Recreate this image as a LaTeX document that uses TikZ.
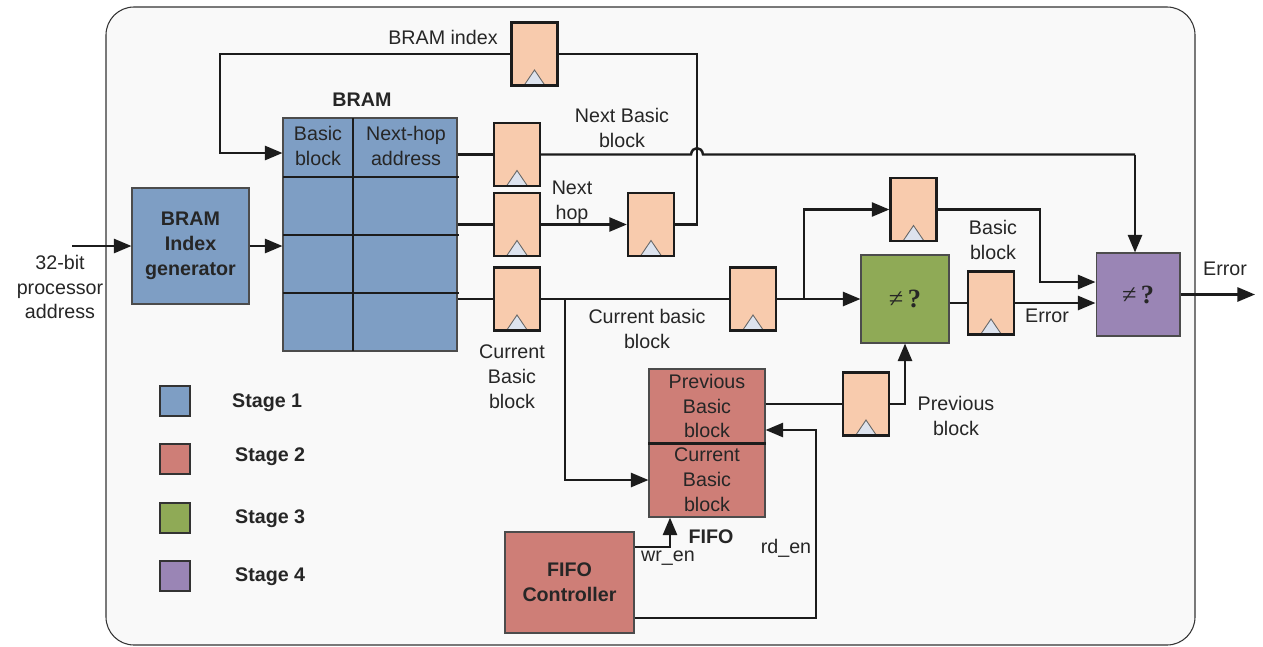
\documentclass[tikz,border=0pt]{standalone}
\usepackage{fontspec}
\setmainfont{Liberation Sans}
\newfontfamily\symfont{Liberation Serif}
\usepackage{tikz}
\usetikzlibrary{arrows.meta,calc}
\definecolor{stageblue}{RGB}{126,158,196}
\definecolor{stagered}{RGB}{206,126,119}
\definecolor{stagegreen}{RGB}{143,170,86}
\definecolor{stagepurple}{RGB}{154,133,181}
\definecolor{regfill}{RGB}{248,203,173}
\definecolor{clkfill}{RGB}{221,227,238}
\definecolor{panelgray}{RGB}{249,249,249}
\definecolor{wire}{RGB}{28,28,28}
\newcommand{\lbl}{\fontsize{11.2}{14.2}\selectfont}
\newcommand{\neqq}{{\symfont\fontsize{15}{16}\selectfont ≠\,\textbf{?}}}

\begin{document}
\begin{tikzpicture}[x=0.02cm, y=-0.02cm,
  every node/.style={font=\lbl, align=center, text=black!85},
  conn/.style={draw=wire, line width=1.4pt},
  arr/.style={conn, -{Triangle[length=10pt,width=8pt]}},
  blockbox/.style={draw=black!70, line width=0.6pt, inner sep=0pt},
  reg/.style={draw=wire, line width=1.3pt, fill=regfill, minimum width=0.92cm, minimum height=1.26cm, inner sep=0pt,
    path picture={\draw[black!60, fill=clkfill, line width=0.5pt]
      ([xshift=-0.21cm]path picture bounding box.south) -- ([xshift=0.21cm]path picture bounding box.south)
      -- ([yshift=0.31cm]path picture bounding box.south) -- cycle;}},
  legend/.style={draw=black!80, line width=0.7pt, minimum size=0.6cm, inner sep=0pt}]
\useasboundingbox (0,0) rectangle (1263,646);
\draw[draw=black!80, fill=panelgray, line width=0.6pt, rounded corners=0.56cm] (106,7) rectangle (1195,645);

% stage 1
\node[blockbox, fill=stageblue, minimum width=2.34cm, minimum height=2.32cm, font=\lbl\bfseries] (gen) at (190.5,246) {BRAM\\Index\\generator};
\node[blockbox, fill=stageblue, minimum width=3.48cm, minimum height=4.66cm] (bram) at (370,234.5) {};
\draw[conn] (353,118) -- (353,351);
\foreach \y in {177,235,293} \draw[conn] (283,\y) -- (459,\y);
\node (bbcell) at (318,146) {Basic\\block};
\node (nhcell) at (406,146) {Next-hop\\address};
\node[font=\lbl\bfseries] (bramlbl) at (362,100) {BRAM};

% registers
\node[reg] (rbi) at (534.5,54) {};
\node[reg] (rnbb) at (517,154.5) {};
\node[reg] (rnh) at (517,224.5) {};
\node[reg] (rcur) at (517,299) {};
\node[reg] (rnh2) at (651,224.5) {};
\node[reg] (rc2) at (753,299) {};
\node[reg] (rbb) at (913.5,209.5) {};
\node[reg] (rerr) at (991,303) {};
\node[reg] (rprev) at (866,404) {};

% stages 2-4
\node[blockbox, fill=stagegreen, minimum width=1.76cm, minimum height=1.76cm] (cmp1) at (905,299) {\neqq};
\node[blockbox, fill=stagepurple, minimum width=1.68cm, minimum height=1.66cm] (cmp2) at (1138,294.5) {\neqq};
\node[blockbox, fill=stagered, minimum width=2.32cm, minimum height=1.48cm] (fprev) at (707,406) {Previous\\Basic\\block};
\node[blockbox, fill=stagered, minimum width=2.32cm, minimum height=1.48cm] (fcur) at (707,480) {Current\\Basic\\block};
\draw[conn] (fprev.south west) -- (fprev.south east);
\node[blockbox, fill=stagered, minimum width=2.58cm, minimum height=2.02cm, font=\lbl\bfseries] (ctl) at (569.5,582.5) {FIFO\\Controller};

% wires
\coordinate (in) at (72,246);
\coordinate (loopr) at (697,54);
\coordinate (loopl) at (220,153);
\coordinate (hopa) at (691,154.5);
\coordinate (hopb) at (703,154.5);
\coordinate (nbbx) at (1135,154.5);
\coordinate (brc) at (565,299);
\coordinate (br2) at (804,299);
\coordinate (bbk) at (1040,282);
\coordinate (out) at (1255,294.5);
\coordinate (wr) at (670,547);
\coordinate (rdb) at (816,618);
\coordinate (rdt) at (816,430);

\draw[arr] (in) -- (gen.west);
\draw[arr] (gen.east) -- (bram.west |- gen.east);
\draw[conn] (rnbb.west -| bram.east) -- (rnbb.west);
\draw[conn] (rnh.west -| bram.east) -- (rnh.west);
\draw[conn] (rcur.west -| bram.east) -- (rcur.west);
\draw[arr] (rnh.east) -- (rnh2.west);
\draw[conn] (rnh2.east) -| (loopr) -- (rbi.east);
\draw[arr] (rbi.west) -| (loopl) -- (bram.west |- loopl);
\draw[conn] (rnbb.east) -- (hopa) .. controls (692,146) and (702,146) .. (hopb) -- (nbbx);
\draw[arr] (nbbx) -- (nbbx |- cmp2.north);
\draw[conn] (rcur.east) -- (rc2.west);
\draw[arr] (brc) |- (fcur.west);
\draw[arr] (rc2.east) -- (cmp1.west);
\draw[arr] (br2) |- (rbb.west);
\draw[arr] (rbb.east) -| (bbk) -- (cmp2.west |- bbk);
\draw[conn] (rerr.west -| cmp1.east) -- (rerr.west);
\draw[arr] (rerr.east) -- (cmp2.west |- rerr.east);
\draw[arr] (cmp2.east) -- (out);
\draw[conn] (rprev.west -| fprev.east) -- (rprev.west);
\draw[arr] (rprev.east) -| (cmp1.south);
\draw[arr] (ctl.east |- wr) -| (fcur.south -| wr);
\draw[arr] (ctl.east |- rdb) -- (rdb) -- (rdt) -- (fprev.east |- rdt);

% labels
\node (lbi) at (443,37) {BRAM index};
\node (lnbb) at (622,128) {Next Basic\\block};
\node (lnh) at (572,202) {Next\\hop};
\node (lcur) at (512,377) {Current\\Basic\\block};
\node (lcur2) at (647,329) {Current basic\\block};
\node (lbb) at (993,240) {Basic\\block};
\node (lerr) at (1047,316) {Error};
\node (lout) at (1225,269) {Error};
\node (lprev) at (956,416) {Previous\\block};
\node[font=\lbl\bfseries] (lfifo) at (711,537) {FIFO};
\node (lwr) at (668,558) {wr\_en};
\node (lrd) at (786,548) {rd\_en};
\node (lin) at (60,287) {32-bit\\processor\\address};

% legend
\node[legend, fill=stageblue] (key1) at (175,401) {};
\node[legend, fill=stagered] (key2) at (175,459) {};
\node[legend, fill=stagegreen] (key3) at (175,518) {};
\node[legend, fill=stagepurple] (key4) at (175,576) {};
\node[font=\lbl\bfseries, anchor=west] (txt1) at (226,403) {Stage 1};
\node[font=\lbl\bfseries, anchor=west] (txt2) at (229,457) {Stage 2};
\node[font=\lbl\bfseries, anchor=west] (txt3) at (229,519) {Stage 3};
\node[font=\lbl\bfseries, anchor=west] (txt4) at (229,577) {Stage 4};
\end{tikzpicture}
\end{document}
